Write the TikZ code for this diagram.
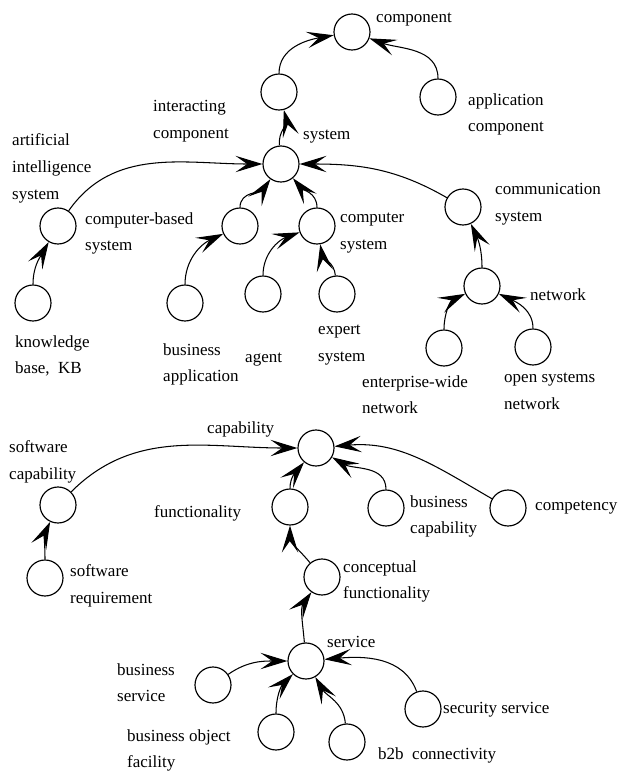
\documentclass[tikz,border=0pt]{standalone}
\usepackage{fontspec}
\setmainfont{Liberation Serif}
\usepackage{tikz}
\usetikzlibrary{arrows.meta}

\begin{document}
\begin{tikzpicture}[
    x=0.03cm, y=-0.03cm,
    cls/.style={circle, draw, line width=1pt, minimum size=1.08cm, inner sep=0pt},
    lbl/.style={anchor=north west, align=left, inner sep=0pt, font=\fontsize{14.5}{23}\selectfont},
    isa/.style={->, line width=0.9pt},
    >={Stealth[length=23pt, width=14pt, inset=10pt]}
    ]
    \useasboundingbox (0,0) rectangle (632,773);

    % upper tree
    \node[cls] (comp) at (352, 32) {};
    \node[cls] (icomp) at (279, 92) {};
    \node[cls] (acomp) at (438, 97) {};
    \node[cls] (sys) at (281, 164) {};
    \node[cls] (ais) at (58, 226) {};
    \node[cls] (kb) at (33, 303) {};
    \node[cls] (cbs) at (240, 226) {};
    \node[cls] (ba) at (185, 303) {};
    \node[cls] (cs) at (317, 226) {};
    \node[cls] (ag) at (263, 294) {};
    \node[cls] (es) at (337, 294) {};
    \node[cls] (comms) at (463, 207) {};
    \node[cls] (net) at (482, 286) {};
    \node[cls] (ewn) at (444, 348) {};
    \node[cls] (osn) at (533, 347) {};

    \node[lbl] (lcomp) at (376, 13) {component};
    \node[lbl] (licomp) at (153, 100) {interacting\\component};
    \node[lbl] (lacomp) at (468, 93) {application\\component};
    \node[lbl] (lsys) at (303, 130) {system};
    \node[lbl] (lais) at (12, 133) {artificial\\intelligence\\system};
    \node[lbl] (lcbs) at (85, 212) {computer-based\\system};
    \node[lbl] (lkb) at (15, 335) {knowledge\\base,\ \ KB};
    \node[lbl] (lba) at (163, 343) {business\\application};
    \node[lbl] (lag) at (245, 353) {agent};
    \node[lbl] (les) at (318, 325) {expert\\system};
    \node[lbl] (lcs) at (340, 213) {computer\\system};
    \node[lbl] (lcomms) at (495, 183) {communication\\system};
    \node[lbl] (lnet) at (530, 288) {network};
    \node[lbl] (lewn) at (362, 375) {enterprise-wide\\network};
    \node[lbl] (losn) at (504, 373) {open systems\\network};

    \draw[isa] (icomp) to[out=90, in=190] (comp);
    \draw[isa] (acomp) to[out=90, in=-20] (comp);
    \draw[isa] (sys) to[out=95, in=-75] (icomp);
    \draw[isa] (ais) to[out=55, in=180] (sys);
    \draw[isa] (kb) to[out=90, in=-120] (ais);
    \draw[isa] (cbs) to[out=90, in=-125] (sys);
    \draw[isa] (ba) to[out=90, in=-155] (cbs);
    \draw[isa] (cs) to[out=90, in=-50] (sys);
    \draw[isa] (ag) to[out=90, in=-160] (cs);
    \draw[isa] (es) to[out=95, in=-80] (cs);
    \draw[isa] (comms) to[out=150, in=0] (sys);
    \draw[isa] (net) to[out=90, in=-65] (comms);
    \draw[isa] (ewn) to[out=90, in=-155] (net);
    \draw[isa] (osn) to[out=90, in=-25] (net);

    % lower tree
    \node[cls] (cap) at (316, 448) {};
    \node[cls] (swc) at (58, 505) {};
    \node[cls] (swr) at (45, 578) {};
    \node[cls] (func) at (290, 507) {};
    \node[cls] (bcap) at (386, 508) {};
    \node[cls] (compy) at (508, 508) {};
    \node[cls] (cfunc) at (322, 577) {};
    \node[cls] (serv) at (306, 661) {};
    \node[cls] (bserv) at (213, 685) {};
    \node[cls] (bof) at (276, 732) {};
    \node[cls] (b2b) at (347, 742) {};
    \node[cls] (secs) at (423, 709) {};

    \node[lbl] (lcap) at (207, 421) {capability};
    \node[lbl] (lswc) at (9, 440) {software\\capability};
    \node[lbl] (lswr) at (70, 564) {software\\requirement};
    \node[lbl] (lfunc) at (154, 505) {functionality};
    \node[lbl] (lbcap) at (410, 495) {business\\capability};
    \node[lbl] (lcompy) at (535, 501) {competency};
    \node[lbl] (lcfunc) at (343, 560) {conceptual\\functionality};
    \node[lbl] (lserv) at (327, 636) {service};
    \node[lbl] (lbserv) at (117, 663) {business\\service};
    \node[lbl] (lbof) at (127, 729) {business object\\facility};
    \node[lbl] (lb2b) at (378, 747) {b2b\ \ connectivity};
    \node[lbl] (lsecs) at (443, 702) {security service};

    \draw[isa] (swc) to[out=45, in=180] (cap);
    \draw[isa] (swr) to[out=90, in=-115] (swc);
    \draw[isa] (func) to[out=90, in=-130] (cap);
    \draw[isa] (bcap) to[out=90, in=-30] (cap);
    \draw[isa] (compy) to[out=150, in=5] (cap);
    \draw[isa] (cfunc) to[out=130, in=-90] (func);
    \draw[isa] (serv) to[out=95, in=-125] (cfunc);
    \draw[isa] (bserv) to[out=35, in=180] (serv);
    \draw[isa] (bof) to[out=90, in=-135] (serv);
    \draw[isa] (b2b) to[out=95, in=-60] (serv);
    \draw[isa] (secs) to[out=110, in=5] (serv);
\end{tikzpicture}
\end{document}
